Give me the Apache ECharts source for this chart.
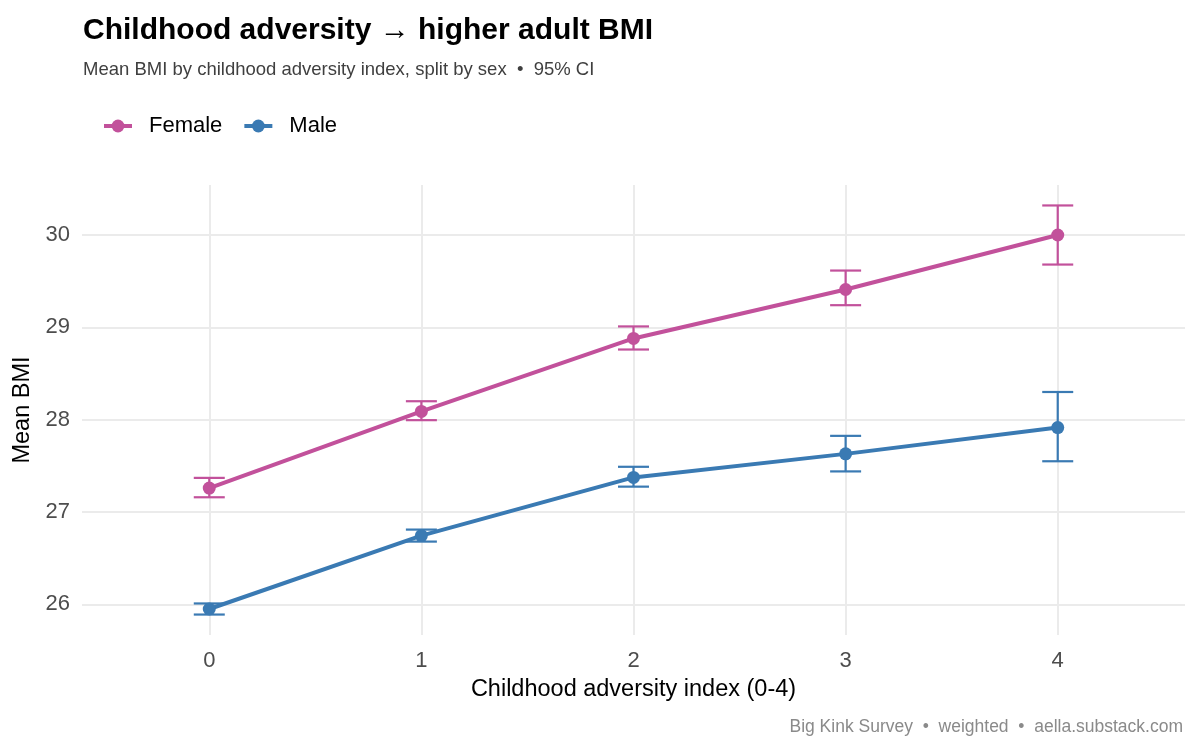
<!DOCTYPE html>
<html>
<head>
<meta charset="utf-8">
<script src="https://cdn.jsdelivr.net/npm/echarts@6/dist/echarts.min.js"></script>
<style>
  html, body { margin: 0; padding: 0; background: #fff; }
  #chart { width: 1200px; height: 750px; }
</style>
</head>
<body>
<div id="chart"></div>
<script>
// adversity index categories
const adversity = [0, 1, 2, 3, 4];
const yTicks = [26, 27, 28, 29, 30];

// mean BMI + 95% CI
const femaleMean = [27.26, 28.09, 28.88, 29.41, 30.00];
const femaleLow  = [27.16, 27.995, 28.76, 29.24, 29.68];
const femaleHigh = [27.37, 28.20, 29.01, 29.615, 30.32];

const maleMean = [25.95, 26.745, 27.375, 27.63, 27.915];
const maleLow  = [25.89, 26.68, 27.275, 27.44, 27.55];
const maleHigh = [26.01, 26.81, 27.49, 27.825, 28.30];

const femaleColor = '#C2519B';
const maleColor = '#3A7AB3';
const font = '"Liberation Sans", Arial, sans-serif';

// ggplot style 5% expansion of the y range
const allLo = Math.min(...femaleLow, ...maleLow);
const allHi = Math.max(...femaleHigh, ...maleHigh);
const pad = (allHi - allLo) * 0.05;

function errorSeries(name, color, low, high) {
    return {
        name: name,
        type: 'custom',
        z: 1,
        data: adversity.map((x, i) => [x, low[i], high[i]]),
        renderItem(params, api) {
            const x = api.value(0);
            const pHi = api.coord([x, api.value(2)]);
            const pLo = api.coord([x, api.value(1)]);
            const hw = 15.5;
            const style = { stroke: color, lineWidth: 2.2 };
            return {
                type: 'group',
                children: [
                    { type: 'line', shape: { x1: pHi[0], y1: pHi[1], x2: pLo[0], y2: pLo[1] }, style },
                    { type: 'line', shape: { x1: pHi[0] - hw, y1: pHi[1], x2: pHi[0] + hw, y2: pHi[1] }, style },
                    { type: 'line', shape: { x1: pLo[0] - hw, y1: pLo[1], x2: pLo[0] + hw, y2: pLo[1] }, style }
                ]
            };
        }
    };
}

function lineSeries(name, color, mean) {
    return {
        name: name,
        type: 'line',
        z: 3,
        data: adversity.map((x, i) => [x, mean[i]]),
        symbol: 'circle',
        symbolSize: 13,
        lineStyle: { width: 4, color: color },
        itemStyle: { color: color },
        emphasis: { disabled: true }
    };
}

const chart = echarts.init(document.getElementById('chart'));
chart.setOption({
    animation: false,
    backgroundColor: '#fff',
    title: [
        {
            text: 'Childhood adversity \u2192 higher adult BMI',
            left: 78, top: 11,
            textStyle: { fontFamily: font, fontSize: 30, fontWeight: 'bold', color: '#000' }
        },
        {
            text: 'Mean BMI by childhood adversity index, split by sex  \u2022  95% CI',
            left: 78, top: 55,
            textStyle: { fontFamily: font, fontSize: 18.5, fontWeight: 'normal', color: '#3f3f3f' }
        },
        {
            text: 'Big Kink Survey  \u2022  weighted  \u2022  aella.substack.com',
            right: 12, top: 713,
            textStyle: { fontFamily: font, fontSize: 17.5, fontWeight: 'normal', color: '#8a8a8a' }
        }
    ],
    legend: {
        data: ['Female', 'Male'],
        left: 102, top: 115,
        padding: 0,
        itemWidth: 28, itemHeight: 16, itemGap: 20,
        lineStyle: { width: 4 },
        textStyle: { fontFamily: font, fontSize: 22, color: '#000', padding: [0, 0, 0, 12] }
    },
    grid: { left: 82, right: 15, top: 185, bottom: 115, containLabel: false },
    xAxis: {
        type: 'value',
        min: -0.6, max: 4.6,
        name: 'Childhood adversity index (0-4)',
        nameLocation: 'middle',
        nameGap: 43,
        nameTextStyle: { fontFamily: font, fontSize: 23.5, color: '#000' },
        axisLine: { show: false },
        axisTick: { show: false, customValues: adversity },
        axisLabel: { customValues: adversity, fontFamily: font, fontSize: 22, color: '#4d4d4d', margin: 15 },
        splitLine: { show: true, lineStyle: { color: '#ebebeb', width: 2 } }
    },
    yAxis: {
        type: 'value',
        min: allLo - pad, max: allHi + pad,
        name: 'Mean BMI',
        nameLocation: 'middle',
        nameGap: 39,
        nameTextStyle: { fontFamily: font, fontSize: 23.5, color: '#000' },
        axisLine: { show: false },
        axisTick: { show: false, customValues: yTicks },
        axisLabel: { customValues: yTicks, fontFamily: font, fontSize: 22, color: '#4d4d4d', margin: 12 },
        splitLine: { show: true, lineStyle: { color: '#ebebeb', width: 2 } }
    },
    series: [
        errorSeries('Female CI', femaleColor, femaleLow, femaleHigh),
        errorSeries('Male CI', maleColor, maleLow, maleHigh),
        lineSeries('Female', femaleColor, femaleMean),
        lineSeries('Male', maleColor, maleMean)
    ]
});
</script>
</body>
</html>
